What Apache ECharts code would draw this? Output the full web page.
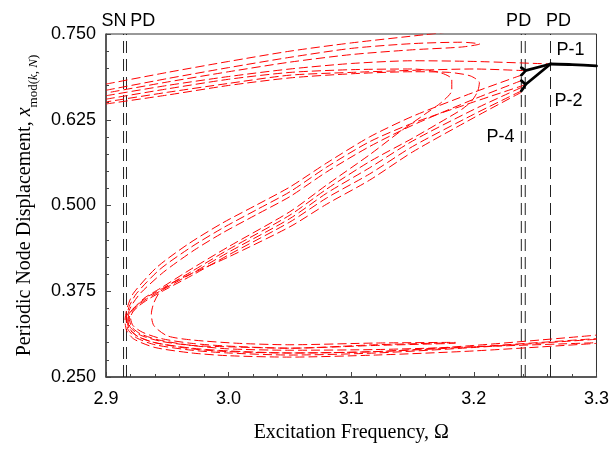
<!DOCTYPE html>
<html><head><meta charset="utf-8">
<script src="https://cdn.jsdelivr.net/npm/echarts@6/dist/echarts.min.js"></script>
<style>html,body{margin:0;padding:0;background:#fff}#c{width:612px;height:450px}</style>
</head><body><div id="c"></div>
<script>
// ---- axis ticks ----
const xTicks = [2.9, 3.0, 3.1, 3.2, 3.3];
const yTicks = [0.250, 0.375, 0.500, 0.625, 0.750];

// ---- bifurcation frequencies (vertical dashed lines) ----
const bifurcationOmega = [2.9143, 2.9167, 3.2387, 3.2419, 3.2625];

// ---- stable branches (black) ----
const p1Stable = [[3.2625,0.7063],[3.28,0.7055],[3.3,0.7035]];
const p2StableUpper = [[3.2419,0.6965],[3.2625,0.7063]];
const p2StableLower = [[3.2419,0.676],[3.2625,0.7063]];
const p4StableUpper = [[3.2387,0.701],[3.2419,0.6965],[3.2387,0.690]];
const p4StableLower = [[3.2387,0.682],[3.2419,0.676],[3.2387,0.667]];

// ---- unstable branches (red dashed) ----
const p1Unstable = [[2.9,0.660],[2.95,0.675],[3.0,0.688],[3.05,0.699],[3.1,0.707],[3.15,0.711],[3.2,0.710],[3.2625,0.7063]];
const p2UnstableUpper = [[3.2419,0.6965],[3.2,0.699],[3.15,0.697],[3.1,0.694],[3.05,0.690],[3.0,0.678],[2.95,0.665],[2.9,0.651]];
const upperExit = [[2.9,0.677],[2.95,0.694],[3.0,0.710],[3.05,0.725],[3.1,0.737],[3.16,0.749],[3.2,0.757]];
const upperTongue = [[2.9,0.668],[2.95,0.685],[3.0,0.701],[3.05,0.716],[3.1,0.729],[3.15,0.736],[3.19,0.738],[3.2047,0.7354],[3.19,0.731],[3.15,0.727],[3.1,0.720],[3.05,0.709],[3.0,0.695],[2.95,0.680],[2.9,0.664]];
const curve1 = [[3.2387,0.690],[3.2,0.665],[3.15,0.630],[3.115,0.600],[3.08,0.562],[3.05,0.527],[3.023,0.501],[2.995,0.4745],[2.968,0.445],[2.9415,0.410],[2.9223,0.372],[2.9175,0.352],[2.9155,0.332],[2.917,0.317],[2.923,0.305],[2.94,0.293],[2.97,0.285],[3.0,0.281],[3.05,0.279],[3.12,0.282],[3.2,0.288],[3.3,0.299]];
const curve2 = [[3.2419,0.676],[3.2,0.651],[3.15,0.620],[3.115,0.593],[3.08,0.556],[3.05,0.520],[3.023,0.494],[2.995,0.467],[2.97,0.440],[2.944,0.407],[2.925,0.372],[2.919,0.353],[2.9165,0.334],[2.918,0.319],[2.925,0.307],[2.94,0.297],[2.97,0.289],[3.0,0.285],[3.05,0.282],[3.12,0.285],[3.2,0.293],[3.3,0.305]];
const curve3 = [[3.2387,0.682],[3.2,0.655],[3.15,0.617],[3.115,0.586],[3.08,0.549],[3.05,0.513],[3.023,0.487],[2.995,0.460],[2.972,0.435],[2.947,0.403],[2.928,0.372],[2.9205,0.353],[2.917,0.335],[2.919,0.320],[2.926,0.309],[2.94,0.300],[2.97,0.292],[3.0,0.288],[3.05,0.285],[3.12,0.287],[3.2,0.296],[3.3,0.311]];
const curve4 = [[2.9,0.655],[2.95,0.670],[3.0,0.684],[3.05,0.694],[3.1,0.698],[3.15,0.699],[3.172,0.694],[3.182,0.684],[3.182,0.668],[3.174,0.651],[3.16,0.633],[3.14,0.608],[3.115,0.574],[3.08,0.530],[3.05,0.491],[3.0,0.440],[2.97,0.408],[2.945,0.380],[2.932,0.366],[2.924,0.353],[2.919,0.343],[2.918,0.335],[2.92,0.322],[2.928,0.311],[2.945,0.302],[2.97,0.296],[3.0,0.294],[3.05,0.292],[3.12,0.296],[3.185,0.299]];
const curve5 = [[2.9,0.648],[2.95,0.661],[3.0,0.675],[3.05,0.686],[3.1,0.692],[3.15,0.695],[3.18,0.694],[3.197,0.689],[3.2045,0.679],[3.203,0.666],[3.198,0.652],[3.19,0.640],[3.178,0.627],[3.15,0.598],[3.115,0.564],[3.08,0.524],[3.05,0.486],[3.0,0.436],[2.97,0.404],[2.946,0.379],[2.933,0.366],[2.925,0.354],[2.9195,0.344],[2.918,0.334],[2.9195,0.320],[2.926,0.309],[2.94,0.300],[2.97,0.291],[3.0,0.287],[3.05,0.285],[3.12,0.287],[3.2,0.294],[3.3,0.306]];
const curve6 = [[3.2387,0.672],[3.2,0.640],[3.15,0.594],[3.115,0.555],[3.08,0.518],[3.05,0.481],[3.0,0.432],[2.97,0.401],[2.947,0.378],[2.934,0.365],[2.926,0.354],[2.921,0.345],[2.919,0.336],[2.921,0.323],[2.928,0.313],[2.943,0.304],[2.97,0.296],[3.0,0.291],[3.05,0.289],[3.12,0.290],[3.2,0.294],[3.3,0.300]];
const curve7 = [[3.2387,0.667],[3.2,0.633],[3.15,0.586],[3.115,0.546],[3.08,0.511],[3.05,0.476],[3.0,0.428],[2.97,0.398],[2.948,0.377],[2.936,0.365],[2.927,0.354],[2.922,0.345],[2.92,0.337],[2.922,0.325],[2.93,0.315],[2.945,0.306],[2.97,0.299],[3.0,0.295],[3.05,0.292],[3.12,0.297],[3.185,0.300]];
const curve8 = [[3.2387,0.665],[3.2,0.628],[3.15,0.578],[3.115,0.537],[3.08,0.502],[3.05,0.469],[3.0,0.425],[2.975,0.405],[2.955,0.388],[2.944,0.374],[2.939,0.358],[2.937,0.342],[2.939,0.325],[2.95,0.310],[2.97,0.304],[3.009,0.299],[3.05,0.297],[3.12,0.2995],[3.185,0.3005]];

// ---- annotations [omega, x, text] ----
const annotations = [
  [2.9065, 0.769, 'SN'], [2.930, 0.769, 'PD'], [3.2365, 0.769, 'PD'], [3.269, 0.769, 'PD'],
  [3.2788, 0.7267, 'P-1'], [3.2772, 0.6523, 'P-2'], [3.2218, 0.600, 'P-4']
];

const redCurves = [p1Unstable, p2UnstableUpper, upperExit, upperTongue, curve1, curve2, curve3, curve4, curve5, curve6, curve7, curve8];
const blackCurves = [p1Stable, p2StableUpper, p2StableLower, p4StableUpper, p4StableLower];

const chart = echarts.init(document.getElementById('c'), null, {renderer: 'canvas'});
const series = [];
bifurcationOmega.forEach(w => series.push({
  type: 'line', data: [[w, yTicks[0]], [w, yTicks[yTicks.length-1]]], symbol: 'none', silent: true,
  lineStyle: {color: '#222', width: 1, type: [12, 6]}, z: 2
}));
redCurves.forEach(c => series.push({
  type: 'line', data: c, symbol: 'none', smooth: 0.25, silent: true,
  lineStyle: {color: '#ff0000', width: 1, type: [9, 4]}, z: 3
}));
blackCurves.forEach(c => series.push({
  type: 'line', data: c, symbol: 'none', smooth: 0.2, silent: true,
  lineStyle: {color: '#000', width: 2.8, type: 'solid', cap: 'round', join: 'round'}, z: 4
}));

const tickFont = {fontFamily: 'Liberation Sans', fontSize: 18, color: '#000'};
chart.setOption({
  animation: false,
  backgroundColor: '#fff',
  grid: {left: 106, right: 15, top: 34, bottom: 73, show: true, borderColor: '#333', borderWidth: 1},
  xAxis: {
    type: 'value', min: xTicks[0], max: xTicks[xTicks.length-1], interval: 0.1,
    name: 'Excitation Frequency, Ω', nameLocation: 'middle', nameGap: 46,
    nameTextStyle: {fontFamily: 'Liberation Serif', fontSize: 20, color: '#000'},
    axisLine: {lineStyle: {color: '#444', width: 1.5}},
    axisTick: {inside: true, length: 5, lineStyle: {color: '#444'}},
    minorTick: {show: true, splitNumber: 5, length: 3, lineStyle: {color: '#444'}},
    splitLine: {show: false},
    axisLabel: Object.assign({margin: 13, formatter: v => v.toFixed(1)}, tickFont)
  },
  yAxis: {
    type: 'value', min: yTicks[0], max: yTicks[yTicks.length-1], interval: 0.125,
    name: '{a|Periodic Node Displacement, }{i|x}{s|mod(}{si|k}{s|, }{si|N}{s|)}',
    nameLocation: 'middle', nameRotate: 90, nameGap: 66,
    nameTextStyle: {
      fontFamily: 'Liberation Serif', fontSize: 20, color: '#000',
      rich: {
        a: {fontFamily: 'Liberation Serif', fontSize: 20, lineHeight: 30, verticalAlign: 'middle'},
        i: {fontFamily: 'Liberation Serif', fontSize: 20, fontStyle: 'italic', lineHeight: 30, verticalAlign: 'middle'},
        s: {fontFamily: 'Liberation Serif', fontSize: 13, lineHeight: 14, verticalAlign: 'bottom'},
        si: {fontFamily: 'Liberation Serif', fontSize: 13, fontStyle: 'italic', lineHeight: 14, verticalAlign: 'bottom'}
      }
    },
    axisLine: {lineStyle: {color: '#444', width: 1.5}},
    axisTick: {inside: true, length: 5, lineStyle: {color: '#444'}},
    minorTick: {show: true, splitNumber: 5, length: 3, lineStyle: {color: '#444'}},
    splitLine: {show: false},
    axisLabel: Object.assign({margin: 10, formatter: v => v.toFixed(3)}, tickFont)
  },
  series: series
});

const graphics = annotations.map(a => {
  const p = chart.convertToPixel({gridIndex: 0}, [a[0], a[1]]);
  return {type: 'text', x: p[0], y: p[1], silent: true, z: 10,
    style: {text: a[2], fontFamily: 'Liberation Sans', fontSize: 18, fill: '#000', align: 'center', verticalAlign: 'middle'}};
});
chart.setOption({graphic: graphics});
</script>
</body></html>
